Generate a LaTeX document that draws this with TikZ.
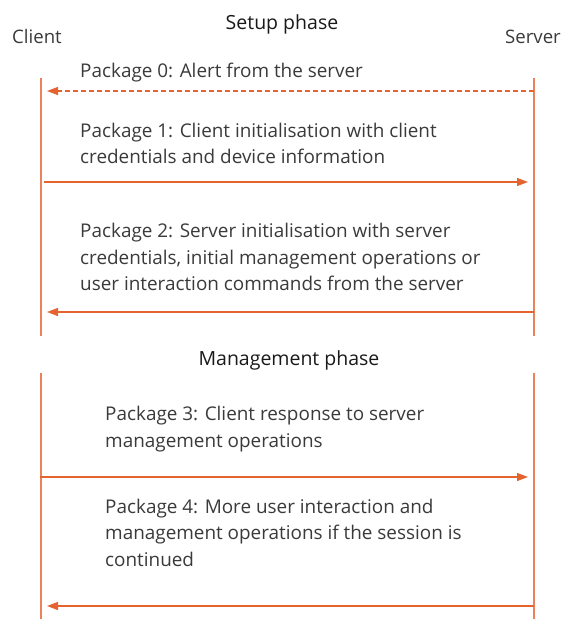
\documentclass[tikz,border=0pt]{standalone}
\usepackage{fontspec}
\setmainfont{Open Sans}
\usetikzlibrary{arrows.meta}
\definecolor{msgorange}{HTML}{E5632E}
\definecolor{lifeorange}{HTML}{E9845A}
\definecolor{txtgray}{HTML}{3A3A3A}
\begin{document}
\begin{tikzpicture}[x=1pt,y=-1pt,
  lifeline/.style={draw=lifeorange,line width=1.2pt},
  msg/.style={draw=msgorange,line width=1.2pt,-{Triangle[length=11pt,width=8pt]}},
  % base anchor of a multi-line label sits on its last line
  label/.style={anchor=base west,align=left,inner sep=0pt,text=txtgray,font=\fontsize{18.9}{26.4}\selectfont},
  actor/.style={inner sep=0pt,text=txtgray,font=\fontsize{18.6}{22}\selectfont},
  phase/.style={inner sep=0pt,text=black!90,font=\fontsize{19.5}{22}\selectfont}]
\useasboundingbox (0,0) rectangle (574,619);

% actors and phase titles
\node[actor,anchor=base west] (client) at (12,43) {Client};
\node[actor,anchor=base east] (server) at (561,43) {Server};
\node[phase,anchor=base] (setup) at (282,29) {Setup phase};
\node[phase,anchor=base] (mgmt) at (289,365) {Management phase};

% lifelines, setup phase
\coordinate (cTop) at (41,78);
\coordinate (cMid) at (41,336);
\coordinate (sTop) at (534,78);
\coordinate (sMid) at (534,336);
\draw[lifeline] (cTop) -- (cMid);
\draw[lifeline] (sTop) -- (sMid);

% lifelines, management phase
\coordinate (cTop2) at (41,373);
\coordinate (cBot) at (41,619);
\coordinate (sTop2) at (534,373);
\coordinate (sBot) at (534,619);
\draw[lifeline] (cTop2) -- (cBot);
\draw[lifeline] (sTop2) -- (sBot);

% message labels
\node[label] (p0) at (80,77.5) {Package 0: Alert from the server};
\node[label] (p1) at (80,163.5) {Package 1: Client initialisation with client\\credentials and device information};
\node[label] (p2) at (80,290.5) {Package 2: Server initialisation with server\\credentials, initial management operations or\\user interaction commands from the server};
\node[label] (p3) at (105,447) {Package 3: Client response to server\\management operations};
\node[label] (p4) at (105,566) {Package 4: More user interaction and\\management operations if the session is\\continued};

% message arrows
\coordinate (a0s) at (534,91);  \coordinate (a0e) at (47,91);
\coordinate (a1s) at (44,182);  \coordinate (a1e) at (528,182);
\coordinate (a2s) at (534,312); \coordinate (a2e) at (47,312);
\coordinate (a3s) at (40,477);  \coordinate (a3e) at (528,477);
\coordinate (a4s) at (534,606); \coordinate (a4e) at (47,606);
\draw[msg,dashed,dash pattern=on 5pt off 3pt] (a0s) -- (a0e);
\draw[msg] (a1s) -- (a1e);
\draw[msg] (a2s) -- (a2e);
\draw[msg] (a3s) -- (a3e);
\draw[msg] (a4s) -- (a4e);
\end{tikzpicture}
\end{document}
